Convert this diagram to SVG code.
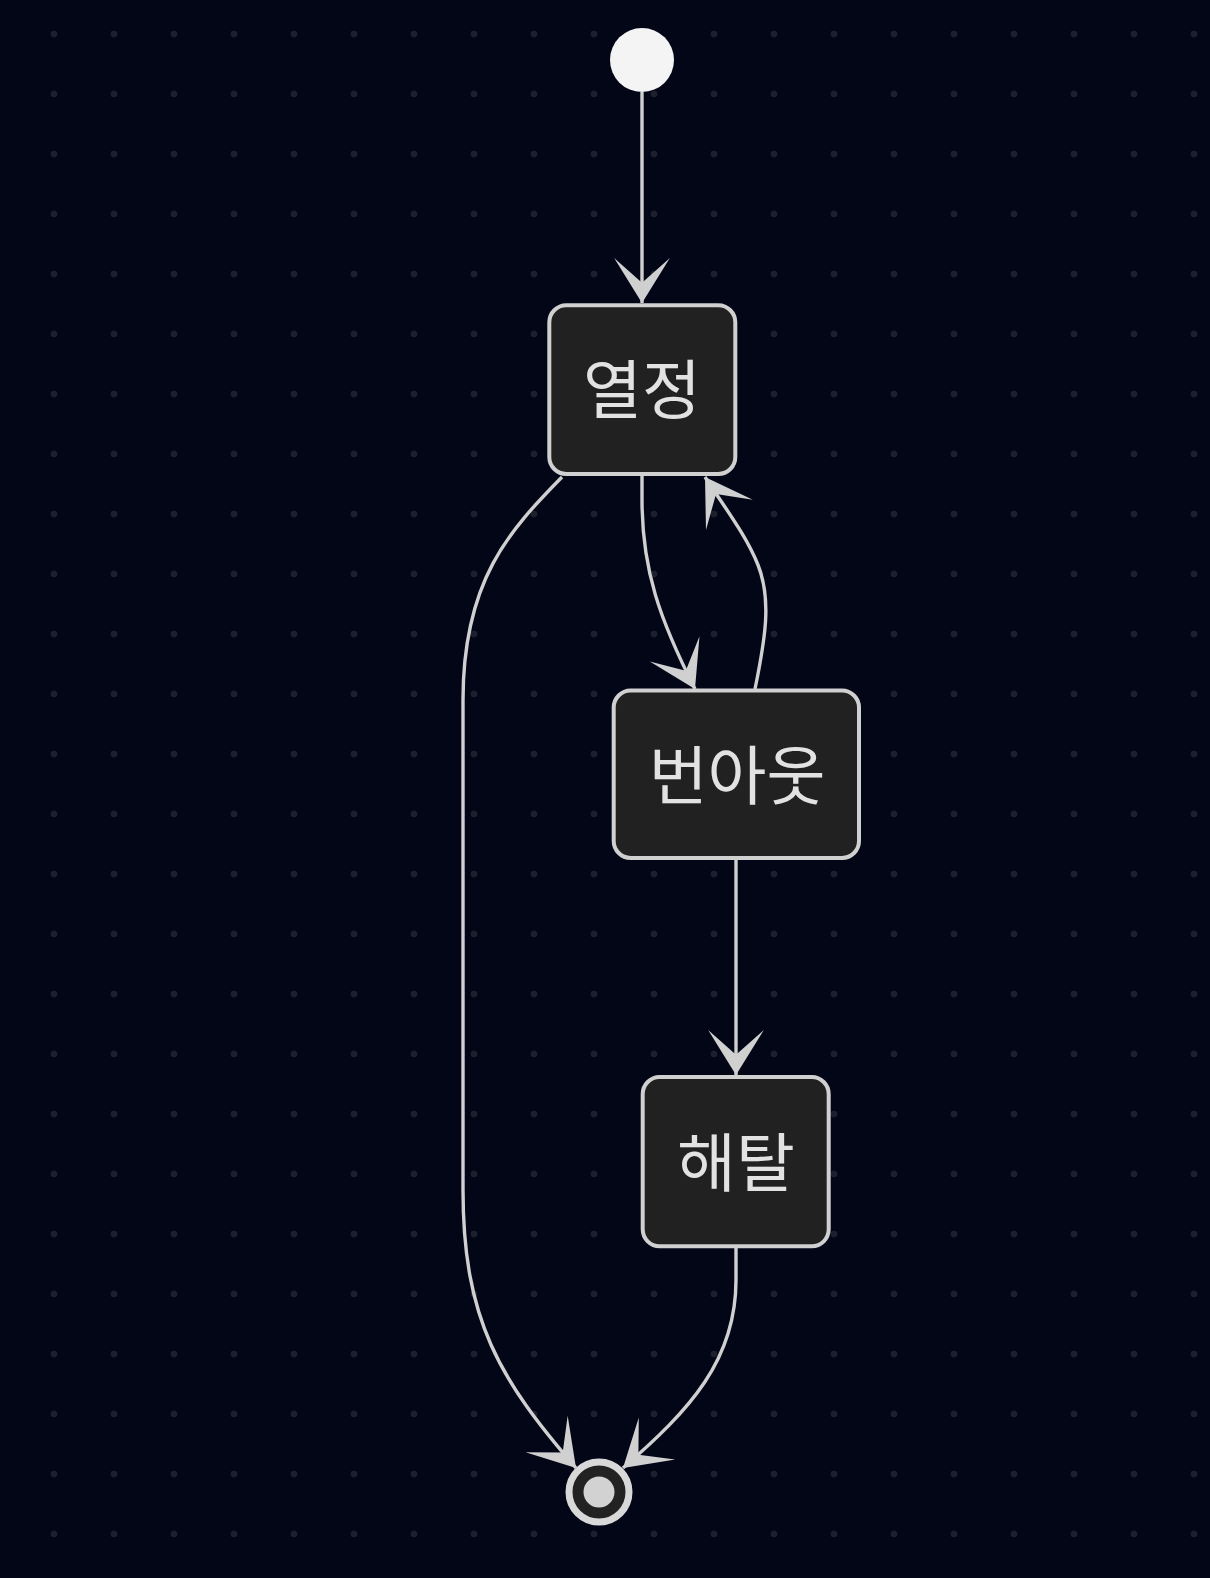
<svg xmlns="http://www.w3.org/2000/svg" width="1210" height="1578" viewBox="0 0 1210 1578">
<style>
.node rect{fill:#212121;stroke:#d0d0d0;stroke-width:4}
.node text{fill:#e2e2e2;font-family:"Noto Sans CJK KR","Noto Sans",sans-serif;font-size:64px;text-anchor:middle}
.edge{fill:none;stroke:#d0d0d0;stroke-width:3.4;marker-end:url(#arr)}
</style>
<defs>
<pattern id="dots" patternUnits="userSpaceOnUse" x="0" y="0" width="60" height="60">
<circle cx="54" cy="34" r="3.3" fill="#1d202c"/>
</pattern>
<marker id="arr" markerUnits="userSpaceOnUse" markerWidth="50" markerHeight="60" viewBox="-43 -28 45 56" refX="0" refY="0" orient="auto">
<path d="M0,0 L-42,-26 L-19,0 L-42,26 Z" fill="#d0d0d0"/>
</marker>
</defs>
<rect width="1210" height="1578" fill="#030617"/>
<rect width="1210" height="1578" fill="url(#dots)"/>
<g id="connectors">
<path class="edge" d="M642,92 L642,303"/>
<path class="edge" d="M562,477 C510,530 463,580 463,700 L463,1190 C463,1320 500,1380 576,1468"/>
<path class="edge" d="M642,476 L642,500 C642,570 660,620 695,689"/>
<path class="edge" d="M755,689 C765,640 772,600 758,565 C746,535 725,508 705,477"/>
<path class="edge" d="M736,860 L736,1075"/>
<path class="edge" d="M736,1248 L736,1280 C736,1360 690,1410 623,1468"/>
</g>
<g id="start"><circle cx="642" cy="60" r="32" fill="#f4f4f4"/></g>
<g id="node-yeoljeong" class="node"><rect x="549.3" y="305.3" width="186" height="168.7" rx="17"/><text x="642" y="412.5">열정</text></g>
<g id="node-burnout" class="node"><rect x="613.7" y="690.5" width="245.3" height="167.5" rx="17"/><text x="737" y="798.5">번아웃</text></g>
<g id="node-haetal" class="node"><rect x="642.7" y="1077" width="186" height="169.3" rx="17"/><text x="736" y="1185.5">해탈</text></g>
<g id="end"><circle cx="599" cy="1492" r="30" fill="#222222" stroke="#d8d8d8" stroke-width="7"/><circle cx="599" cy="1492" r="15.5" fill="#d2d2d2"/></g>
</svg>
